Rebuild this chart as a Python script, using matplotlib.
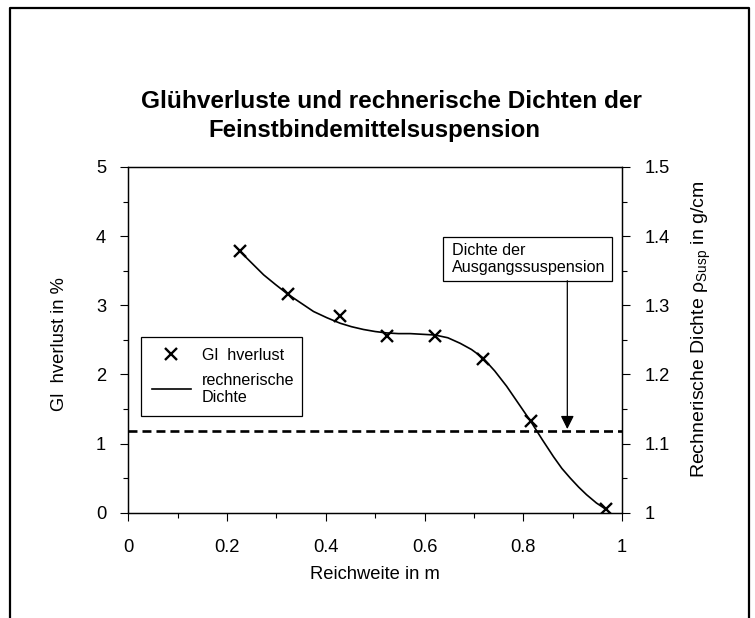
import matplotlib
matplotlib.use('Agg')
import matplotlib.pyplot as plt
from matplotlib.lines import Line2D
from matplotlib.patches import Rectangle
from matplotlib.ticker import MultipleLocator

plt.rcParams['font.family'] = ['Liberation Sans', 'DejaVu Sans']
plt.rcParams['mathtext.fontset'] = 'custom'
plt.rcParams['mathtext.rm'] = 'Liberation Sans'

# Gluehverlust measurements (left axis, %)
reichweite = [0.226, 0.323, 0.429, 0.523, 0.621, 0.718, 0.815, 0.967]
gluehverlust = [3.78, 3.16, 2.84, 2.56, 2.55, 2.23, 1.33, 0.05]

# calculated density curve (right axis, g/cm3)
dichte_x = [0.226, 0.250, 0.274, 0.298, 0.323, 0.350, 0.375, 0.402, 0.429,
            0.452, 0.476, 0.500, 0.523, 0.547, 0.571, 0.596, 0.621, 0.647,
            0.672, 0.695, 0.718, 0.742, 0.766, 0.790, 0.815, 0.838, 0.861,
            0.878, 0.895, 0.912, 0.928, 0.948, 0.967]
dichte_y = [1.378, 1.361, 1.344, 1.330, 1.316, 1.303, 1.291, 1.282, 1.274,
            1.269, 1.265, 1.262, 1.260, 1.259, 1.259, 1.258, 1.257, 1.253,
            1.245, 1.236, 1.224, 1.205, 1.183, 1.158, 1.132, 1.106, 1.081,
            1.064, 1.050, 1.037, 1.026, 1.014, 1.005]

# density of the initial suspension
dichte_ausgang = 1.118

FS = 13.2

fig = plt.figure(figsize=(7.55, 6.18), dpi=100)
ax = fig.add_axes([0.1700, 0.1704, 0.6540, 0.5594])
ax2 = ax.twinx()

# frame around the whole figure (open at the bottom)
W, H = 755, 618
fig.add_artist(Line2D([10 / W, 10 / W, 749 / W, 749 / W],
                      [0, 1 - 8 / H, 1 - 8 / H, 0],
                      transform=fig.transFigure, color='black', lw=1.6))

ax.plot(reichweite, gluehverlust, linestyle='none', marker='x', color='black',
        markersize=9, markeredgewidth=1.7, zorder=5)
ax2.plot(dichte_x, dichte_y, color='black', lw=1.2)
ax2.axhline(dichte_ausgang, color='black', lw=1.9, dashes=(3.4, 1.9))

ax.set_xlim(0, 1)
ax.set_ylim(0, 5)
ax2.set_ylim(1, 1.5)

ax.xaxis.set_major_locator(MultipleLocator(0.2))
ax.xaxis.set_minor_locator(MultipleLocator(0.1))
ax.yaxis.set_major_locator(MultipleLocator(1))
ax.yaxis.set_minor_locator(MultipleLocator(0.5))
ax2.yaxis.set_major_locator(MultipleLocator(0.1))
ax2.yaxis.set_minor_locator(MultipleLocator(0.05))
ax.xaxis.set_major_formatter(plt.FuncFormatter(lambda v, p: '%g' % v))
ax.yaxis.set_major_formatter(plt.FuncFormatter(lambda v, p: '%g' % v))
ax2.yaxis.set_major_formatter(plt.FuncFormatter(lambda v, p: '%g' % round(v, 2)))

for a in (ax, ax2):
    a.tick_params(which='major', direction='out', length=5.5, width=0.8,
                  labelsize=FS, pad=10.5)
    a.tick_params(which='minor', direction='out', length=3.5, width=0.8)
    for s in a.spines.values():
        s.set_linewidth(0.9)
ax.tick_params(axis='x', which='major', pad=13.5)

ax.set_xlabel('Reichweite in m', fontsize=FS, labelpad=7)
ax.set_ylabel('Gl  hverlust in %', fontsize=FS)
ax.yaxis.set_label_coords(-0.122, 0.489)
ax2.set_ylabel(r'Rechnerische Dichte ρ$_{\mathregular{Susp}}$ in g/cm',
               fontsize=14)
ax2.yaxis.set_label_coords(1.136, 0.531)

fig.text(391 / W, 1 - 101 / H, 'Glühverluste und rechnerische Dichten der',
         ha='center', va='center', fontsize=17.6, fontweight='bold')
fig.text(374 / W, 1 - 130 / H, 'Feinstbindemittelsuspension',
         ha='center', va='center', fontsize=17.3, fontweight='bold')

handles = [Line2D([], [], linestyle='none', marker='x', color='black',
                  markersize=9, markeredgewidth=1.7),
           Line2D([], [], color='black', lw=1.2)]
leg = ax.legend(handles, ['Gl  hverlust', 'rechnerische\nDichte'],
                loc='upper left', bbox_to_anchor=(0.025, 0.271, 0.327, 0.238),
                mode='expand', borderaxespad=0, fancybox=False,
                edgecolor='black', framealpha=1, fontsize=11.6,
                handlelength=2.4, handletextpad=0.7, labelspacing=0.6,
                borderpad=0.7)
leg.get_frame().set_linewidth(0.9)

# label box with arrow to the initial density
ax.add_patch(Rectangle((0.638, 0.671), 0.341, 0.126, transform=ax.transAxes,
                       facecolor='white', edgecolor='black', lw=0.9, zorder=4))
ax.text(0.656, 0.734, 'Dichte der\nAusgangssuspension', transform=ax.transAxes,
        ha='left', va='center', fontsize=11.6, linespacing=1.1, zorder=5)
ax2.annotate('', xy=(0.889, dichte_ausgang + 0.003), xycoords='data',
             xytext=(0.889, 0.671), textcoords=('data', 'axes fraction'),
             arrowprops=dict(arrowstyle='-|>', color='black', lw=0.9,
                             mutation_scale=20, shrinkA=0, shrinkB=0))

fig.savefig('out.png', dpi=100)
